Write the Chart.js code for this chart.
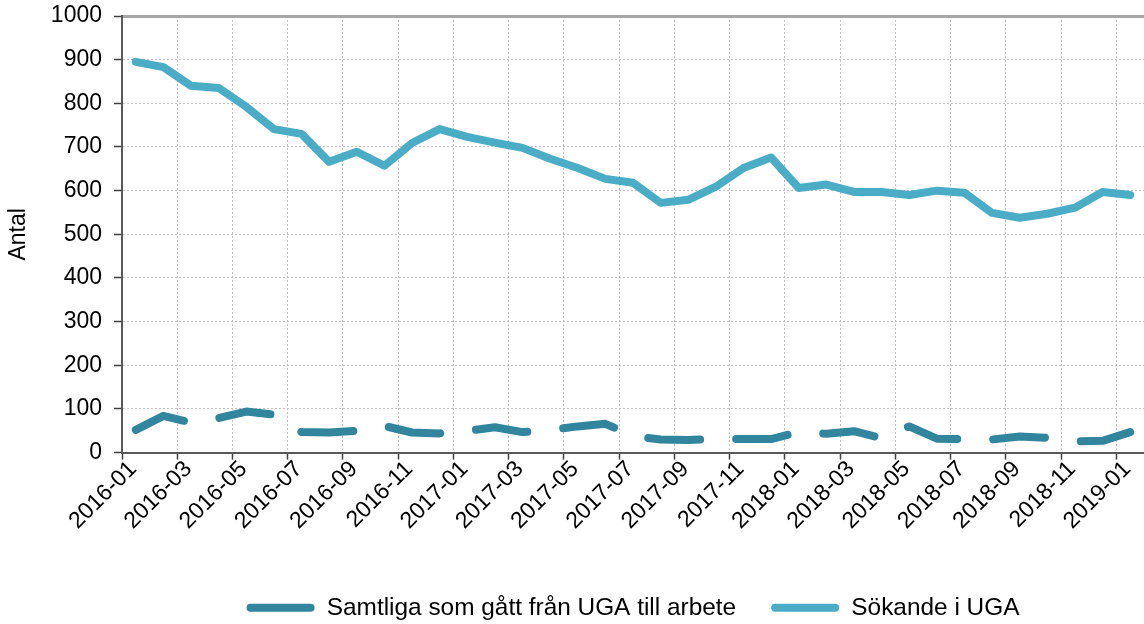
<!DOCTYPE html>
<html>
<head>
<meta charset="utf-8">
<script src="https://cdn.jsdelivr.net/npm/chart.js@4/dist/chart.umd.min.js"></script>
<style>
  html, body { margin: 0; padding: 0; background: #fff; }
</style>
</head>
<body>
<canvas id="chart" width="1144" height="624"></canvas>
<script>
const months = [
    '2016-01', '2016-02', '2016-03', '2016-04', '2016-05', '2016-06', '2016-07', '2016-08', '2016-09', '2016-10', '2016-11', '2016-12',
    '2017-01', '2017-02', '2017-03', '2017-04', '2017-05', '2017-06', '2017-07', '2017-08', '2017-09', '2017-10', '2017-11', '2017-12',
    '2018-01', '2018-02', '2018-03', '2018-04', '2018-05', '2018-06', '2018-07', '2018-08', '2018-09', '2018-10', '2018-11', '2018-12',
    '2019-01'
];
const tickLabels = [
    '2016-01', '2016-03', '2016-05', '2016-07', '2016-09', '2016-11',
    '2017-01', '2017-03', '2017-05', '2017-07', '2017-09', '2017-11',
    '2018-01', '2018-03', '2018-05', '2018-07', '2018-09', '2018-11',
    '2019-01'
];
const yTicks = [0, 100, 200, 300, 400, 500, 600, 700, 800, 900, 1000];

const samtliga = [52, 84, 69, 79, 94, 87, 47, 46, 50, 61, 46, 44, 50, 58, 47, 52, 60, 66, 38, 30, 29, 31, 31, 31, 47, 43, 49, 33, 60, 32, 31, 30, 37, 34, 26, 27, 47];
const sokande = [895, 883, 840, 835, 792, 741, 730, 666, 689, 657, 709, 741, 723, 710, 698, 673, 652, 627, 618, 572, 579, 609, 652, 676, 606, 614, 597, 597, 590, 600, 595, 549, 538, 547, 561, 597, 590];

const font = "'Liberation Sans', Arial, sans-serif";

// values sit in the middle of each month
const toPoints = (values) => values.map((v, i) => ({ x: i + 0.5, y: v }));

// keep the plot box fixed: no extra padding from the tick labels
const noPadding = (scale) => {
    scale.paddingTop = 0;
    scale.paddingBottom = 0;
    scale.paddingLeft = 0;
    scale.paddingRight = 0;
};

new Chart(document.getElementById('chart'), {
    type: 'line',
    data: {
        datasets: [
            {
                label: 'Samtliga som gått från UGA till arbete',
                data: toPoints(samtliga),
                borderColor: '#31859c',
                backgroundColor: '#31859c',
                borderWidth: 8,
                borderDash: [52, 36],
                borderCapStyle: 'round',
                borderJoinStyle: 'round',
                pointRadius: 0,
                tension: 0
            },
            {
                label: 'Sökande i UGA',
                data: toPoints(sokande),
                borderColor: '#4bacc6',
                backgroundColor: '#4bacc6',
                borderWidth: 8,
                borderCapStyle: 'round',
                borderJoinStyle: 'round',
                pointRadius: 0,
                tension: 0
            }
        ]
    },
    options: {
        responsive: false,
        animation: false,
        devicePixelRatio: 1,
        layout: { padding: { top: 16, right: 0, bottom: -6, left: 0 } },
        plugins: {
            tooltip: { enabled: false },
            legend: {
                position: 'bottom',
                fullSize: false,
                labels: {
                    boxWidth: 68,
                    boxHeight: 8,
                    padding: 35,
                    useBorderRadius: true,
                    borderRadius: 4,
                    color: '#000',
                    font: { family: font, size: 24.4 },
                    generateLabels: (chart) => Chart.defaults.plugins.legend.labels.generateLabels(chart).map(l => ({
                        ...l, lineDash: [], lineWidth: 0, fillStyle: l.strokeStyle, borderRadius: 4
                    }))
                }
            }
        },
        scales: {
            x: {
                type: 'linear',
                min: 0,
                max: months.length,
                afterBuildTicks: (scale) => {
                    scale.ticks = tickLabels.map(t => ({ value: months.indexOf(t) }));
                },
                afterFit: (scale) => { scale.height = 108; noPadding(scale); },
                grid: { color: '#c0c0c0', lineWidth: 1, tickLength: 7, tickColor: '#404040', tickWidth: 1.5 },
                border: { color: '#595959', width: 2, dash: [2, 2] },
                ticks: {
                    autoSkip: false,
                    maxRotation: 45,
                    minRotation: 45,
                    labelOffset: 11,
                    padding: -4,
                    color: '#000',
                    font: { family: font, size: 23 },
                    callback: (v) => months[v]
                }
            },
            top: {
                type: 'linear',
                position: 'top',
                min: 0,
                max: 1,
                ticks: { display: false },
                grid: { display: false, drawTicks: false },
                border: { display: true, color: '#a6a6a6', width: 3 },
                afterFit: (scale) => { scale.height = 0; noPadding(scale); }
            },
            y: {
                min: 0,
                max: 1000,
                afterBuildTicks: (scale) => {
                    scale.ticks = yTicks.map(v => ({ value: v }));
                },
                afterFit: (scale) => { scale.width = 122; noPadding(scale); },
                grid: { color: '#c0c0c0', lineWidth: 1, tickLength: 8, tickColor: '#404040', tickWidth: 1.5 },
                border: { color: '#595959', width: 2, dash: [2, 2] },
                ticks: {
                    padding: 12,
                    color: '#000',
                    font: { family: font, size: 23 },
                    callback: (v) => String(v)
                },
                title: {
                    display: true,
                    text: 'Antal',
                    color: '#000',
                    font: { family: font, size: 23 },
                    padding: { top: 5, bottom: 0 }
                }
            }
        }
    }
});
</script>
</body>
</html>
